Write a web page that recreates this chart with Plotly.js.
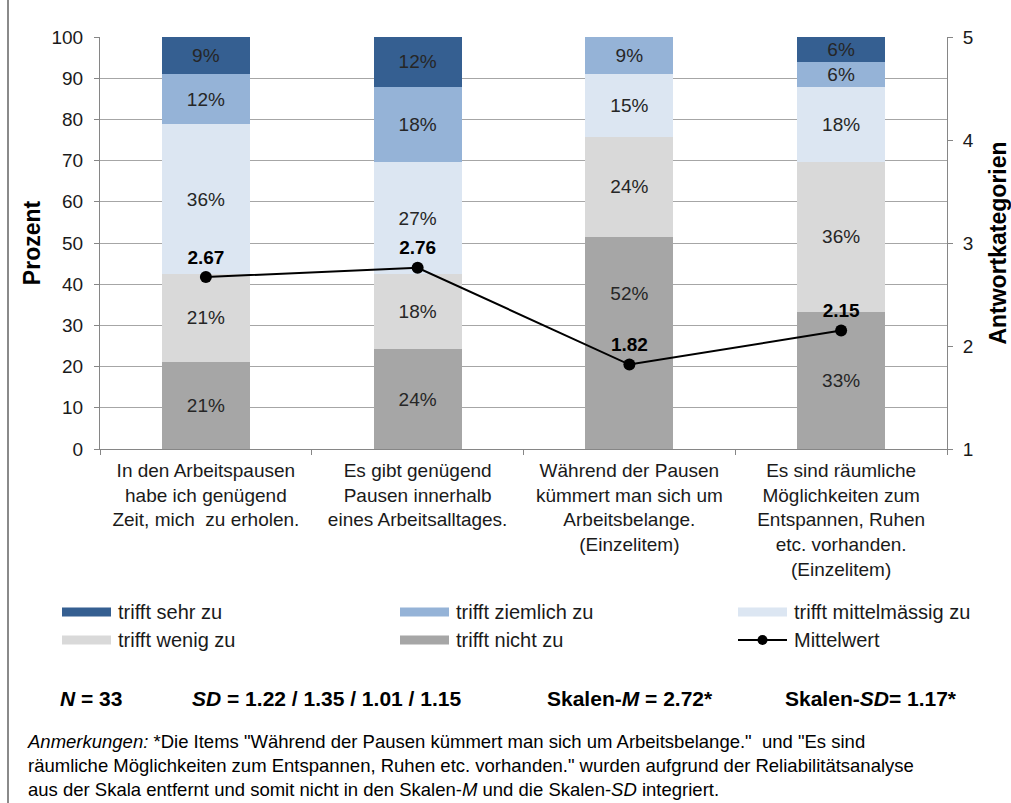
<!DOCTYPE html>
<html>
<head>
<meta charset="utf-8">
<script src="https://cdn.plot.ly/plotly-3.0.1.min.js"></script>
<style>
  html, body { margin: 0; padding: 0; background: #ffffff; }
  #chart { width: 1011px; height: 803px; }
</style>
</head>
<body>
<div id="chart"></div>
<script>
// Items (category tick labels)
const items = [
  "In den Arbeitspausen<br>habe ich genügend<br>Zeit, mich  zu erholen.",
  "Es gibt genügend<br>Pausen innerhalb<br>eines Arbeitsalltages.",
  "Während der Pausen<br>kümmert man sich um<br>Arbeitsbelange.<br>(Einzelitem)",
  "Es sind räumliche<br>Möglichkeiten zum<br>Entspannen, Ruhen<br>etc. vorhanden.<br>(Einzelitem)"
];

// Answer shares in percent, stacked from bottom to top
const trifftNichtZu       = [21.2, 24.2, 51.5, 33.3];
const trifftWenigZu       = [21.2, 18.2, 24.2, 36.4];
const trifftMittelmaessig = [36.4, 27.3, 15.2, 18.2];
const trifftZiemlichZu    = [12.1, 18.2,  9.1,  6.1];
const trifftSehrZu        = [ 9.1, 12.1,  0.0,  6.0];

// Item means on the 1–5 answer scale
const mittelwert = [2.67, 2.76, 1.82, 2.15];

const seriesNames = ["trifft nicht zu", "trifft wenig zu", "trifft mittelmässig zu", "trifft ziemlich zu", "trifft sehr zu"];
const seriesValues = [trifftNichtZu, trifftWenigZu, trifftMittelmaessig, trifftZiemlichZu, trifftSehrZu];
const seriesColors = ["#a6a6a6", "#d9d9d9", "#dce6f2", "#95b3d7", "#355f91"];

const FONT = "Liberation Sans, Arial, Helvetica, sans-serif";
const AXIS_GRAY = "#868686";
const GRID_GRAY = "#a6a6a6";

// Plot area in pixels: used to place the legend and footer in paper units
const M = { l: 100, r: 64, t: 37, b: 354 };
const W = 1011, H = 803;
const PW = W - M.l - M.r, PH = H - M.t - M.b;
const px = x => (x - M.l) / PW;
const py = y => (H - M.b - y) / PH;

// Percent labels; a label that would sit under a mean label is lifted
// by padding it with empty lines below.
const meanAsPercent = mittelwert.map(m => (m - 1) / 4 * 100);
function segmentLabels(si) {
  return seriesValues[si].map((v, j) => {
    if (v <= 0) return "";
    let base = 0;
    for (let k = 0; k < si; k++) base += seriesValues[k][j];
    const centre = base + v / 2;
    const label = Math.round(v) + "%";
    if (Math.abs(centre - meanAsPercent[j]) < 8 && v > 40) {
      return label + "<br>\u00a0<br>\u00a0<br>\u00a0<br>\u00a0";
    }
    return label;
  });
}

const traces = seriesNames.map((name, i) => ({
  type: "bar",
  name: name,
  x: items,
  y: seriesValues[i],
  text: segmentLabels(i),
  textposition: "inside",
  insidetextanchor: "middle",
  textangle: 0,
  constraintext: "none",
  textfont: { family: FONT, size: 19, color: "#262626" },
  marker: { color: seriesColors[i], line: { width: 0 } },
  hoverinfo: "skip",
  showlegend: false
}));

traces.push({
  type: "scatter",
  mode: "lines+markers+text",
  name: "Mittelwert",
  x: items,
  y: mittelwert,
  yaxis: "y2",
  text: mittelwert.map(v => "<b>" + v.toFixed(2) + "</b>"),
  textposition: "top center",
  textfont: { family: FONT, size: 19, color: "#000000" },
  line: { color: "#000000", width: 2 },
  marker: { color: "#000000", size: 12 },
  hoverinfo: "skip",
  showlegend: false
});

// Legend drawn as wide swatches in three columns
const legendOrder = [4, 3, 2, 1, 0, "mean"];
const colSwatchX = [62, 400, 738];
const rowY = [612, 640];
const shapes = [];
const annotations = [];
legendOrder.forEach((key, k) => {
  const col = k % 3, row = Math.floor(k / 3);
  const x0 = colSwatchX[col], x1 = x0 + 49, yc = rowY[row];
  let label;
  if (key === "mean") {
    label = "Mittelwert";
    shapes.push({ type: "line", xref: "paper", yref: "paper",
      x0: px(x0), x1: px(x1), y0: py(yc), y1: py(yc),
      line: { color: "#000000", width: 2 } });
    shapes.push({ type: "circle", xref: "paper", yref: "paper",
      x0: px((x0 + x1) / 2 - 5), x1: px((x0 + x1) / 2 + 5),
      y0: py(yc - 5), y1: py(yc + 5),
      fillcolor: "#000000", line: { width: 0 } });
  } else {
    label = seriesNames[key];
    shapes.push({ type: "rect", xref: "paper", yref: "paper",
      x0: px(x0), x1: px(x1), y0: py(yc - 4.5), y1: py(yc + 4.5),
      fillcolor: seriesColors[key], line: { width: 0 } });
  }
  annotations.push({ xref: "paper", yref: "paper", x: px(x1 + 5), y: py(yc),
    xanchor: "left", yanchor: "middle", showarrow: false, text: label,
    font: { family: FONT, size: 20, color: "#1a1a1a" } });
});

// Sample statistics line
const stats = [
  { x: 58,  text: "<b><i>N</i> = 33</b>" },
  { x: 190, text: "<b><i>SD</i> = 1.22 / 1.35 / 1.01 / 1.15</b>" },
  { x: 545, text: "<b>Skalen-<i>M</i> = 2.72*</b>" },
  { x: 783, text: "<b>Skalen-<i>SD</i>= 1.17*</b>" }
];
stats.forEach(s => annotations.push({
  xref: "paper", yref: "paper", x: px(s.x), y: py(698),
  xanchor: "left", yanchor: "middle", showarrow: false, text: s.text,
  font: { family: FONT, size: 21, color: "#000000" }
}));

// Footnote
annotations.push({
  xref: "paper", yref: "paper", x: px(25), y: py(765),
  xanchor: "left", yanchor: "middle", align: "left", showarrow: false,
  text: "<i>Anmerkungen:</i> *Die Items \"Während der Pausen kümmert man sich um Arbeitsbelange.\"  und \"Es sind<br>" +
        "räumliche Möglichkeiten zum Entspannen, Ruhen etc. vorhanden.\" wurden aufgrund der Reliabilitätsanalyse<br>" +
        "aus der Skala entfernt und somit nicht in den Skalen-<i>M</i> und die Skalen-<i>SD</i> integriert.",
  font: { family: FONT, size: 18.5, color: "#000000" }
});

// Frame line on the left edge
shapes.push({ type: "line", xref: "paper", yref: "paper",
  x0: px(8), x1: px(8), y0: py(0), y1: py(H),
  line: { color: "#8a8a8a", width: 2 } });

const layout = {
  width: W, height: H,
  margin: M,
  paper_bgcolor: "#ffffff",
  plot_bgcolor: "#ffffff",
  font: { family: FONT, size: 19, color: "#1a1a1a" },
  barmode: "stack",
  bargap: 0.584,
  showlegend: false,
  xaxis: {
    type: "category",
    tickson: "boundaries",
    ticks: "outside", ticklen: 5, tickcolor: AXIS_GRAY,
    ticklabelstandoff: 4,
    showline: true, linecolor: AXIS_GRAY, linewidth: 1,
    showgrid: false, zeroline: false,
    tickfont: { family: FONT, size: 19, color: "#1a1a1a" },
    automargin: false
  },
  yaxis: {
    range: [0, 100], dtick: 10,
    ticks: "outside", ticklen: 5, tickcolor: AXIS_GRAY,
    ticklabelstandoff: 7,
    showline: true, linecolor: AXIS_GRAY, linewidth: 1,
    showgrid: true, gridcolor: GRID_GRAY, gridwidth: 1,
    zeroline: false,
    tickfont: { family: FONT, size: 19, color: "#1a1a1a" },
    title: { text: "<b>Prozent</b>", standoff: 4, font: { family: FONT, size: 23, color: "#000000" } },
    automargin: false
  },
  yaxis2: {
    overlaying: "y", side: "right",
    range: [1, 5], dtick: 1,
    ticks: "outside", ticklen: 5, tickcolor: AXIS_GRAY,
    ticklabelstandoff: 6,
    showline: true, linecolor: AXIS_GRAY, linewidth: 1,
    showgrid: false, zeroline: false,
    tickfont: { family: FONT, size: 19, color: "#1a1a1a" },
    title: { text: "<b>Antwortkategorien</b>", standoff: 24, font: { family: FONT, size: 23, color: "#000000" } },
    automargin: false
  },
  shapes: shapes,
  annotations: annotations
};

Plotly.newPlot("chart", traces, layout, { displayModeBar: false, staticPlot: true });
</script>
</body>
</html>
